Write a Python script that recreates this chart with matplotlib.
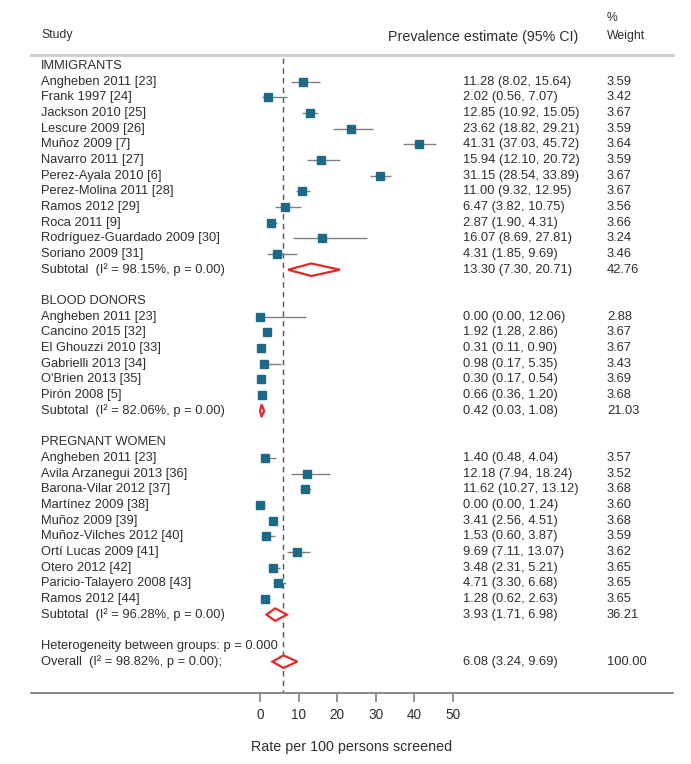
import numpy as np
import matplotlib.pyplot as plt
from matplotlib.patches import Polygon
import matplotlib.transforms as mtransforms

plt.rcParams['font.family'] = ['Liberation Sans', 'DejaVu Sans']

# ---- data -------------------------------------------------------------
imm_study = ["Angheben 2011 [23]", "Frank 1997 [24]", "Jackson 2010 [25]",
             "Lescure 2009 [26]", "Muñoz 2009 [7]", "Navarro 2011 [27]",
             "Perez-Ayala 2010 [6]", "Perez-Molina 2011 [28]", "Ramos 2012 [29]",
             "Roca 2011 [9]", "Rodríguez-Guardado 2009 [30]", "Soriano 2009 [31]"]
imm_est = [11.28, 2.02, 12.85, 23.62, 41.31, 15.94, 31.15, 11.00, 6.47, 2.87, 16.07, 4.31]
imm_lo = [8.02, 0.56, 10.92, 18.82, 37.03, 12.10, 28.54, 9.32, 3.82, 1.90, 8.69, 1.85]
imm_hi = [15.64, 7.07, 15.05, 29.21, 45.72, 20.72, 33.89, 12.95, 10.75, 4.31, 27.81, 9.69]
imm_w = [3.59, 3.42, 3.67, 3.59, 3.64, 3.59, 3.67, 3.67, 3.56, 3.66, 3.24, 3.46]

don_study = ["Angheben 2011 [23]", "Cancino 2015 [32]", "El Ghouzzi 2010 [33]",
             "Gabrielli 2013 [34]", "O'Brien 2013 [35]", "Pirón 2008 [5]"]
don_est = [0.00, 1.92, 0.31, 0.98, 0.30, 0.66]
don_lo = [0.00, 1.28, 0.11, 0.17, 0.17, 0.36]
don_hi = [12.06, 2.86, 0.90, 5.35, 0.54, 1.20]
don_w = [2.88, 3.67, 3.67, 3.43, 3.69, 3.68]

preg_study = ["Angheben 2011 [23]", "Avila Arzanegui 2013 [36]", "Barona-Vilar 2012 [37]",
              "Martínez 2009 [38]", "Muñoz 2009 [39]", "Muñoz-Vilches 2012 [40]",
              "Ortí Lucas 2009 [41]", "Otero 2012 [42]", "Paricio-Talayero 2008 [43]",
              "Ramos 2012 [44]"]
preg_est = [1.40, 12.18, 11.62, 0.00, 3.41, 1.53, 9.69, 3.48, 4.71, 1.28]
preg_lo = [0.48, 7.94, 10.27, 0.00, 2.56, 0.60, 7.11, 2.31, 3.30, 0.62]
preg_hi = [4.04, 18.24, 13.12, 1.24, 4.51, 3.87, 13.07, 5.21, 6.68, 2.63]
preg_w = [3.57, 3.52, 3.68, 3.60, 3.68, 3.59, 3.62, 3.65, 3.65, 3.65]

group_names = ["IMMIGRANTS", "BLOOD DONORS", "PREGNANT WOMEN"]
sub_i2 = ["98.15", "82.06", "96.28"]
sub_est = [13.30, 0.42, 3.93]
sub_lo = [7.30, 0.03, 1.71]
sub_hi = [20.71, 1.08, 6.98]
sub_w = [42.76, 21.03, 36.21]

overall_est, overall_lo, overall_hi = 6.08, 3.24, 9.69
overall_i2 = "98.82"
het_p = "0.000"
x_ticks = [0, 10, 20, 30, 40, 50]

# ---- styling ----------------------------------------------------------
txt_col = '#2e2e2e'
sq_col = '#1d6a86'
ci_col = '#808080'
dia_col = '#e02a2a'
fs = 9.3

fig = plt.figure(figsize=(6.91, 7.64), dpi=100)
W, H = 691, 764
left_px, right_px, top_px, bot_px = 31, 673, 55, 693
ax = fig.add_axes([left_px / W, 1 - bot_px / H, (right_px - left_px) / W, (bot_px - top_px) / H])
ax.set_xlim(-59.3, 107.0)
ax.set_ylim(40.0, -0.7)

for s in ['left', 'right']:
    ax.spines[s].set_visible(False)
ax.spines['top'].set_color('#cccccc')
ax.spines['top'].set_linewidth(2.0)
ax.spines['bottom'].set_color('#808080')
ax.spines['bottom'].set_linewidth(1.3)
ax.set_yticks([])
ax.set_xticks(x_ticks)
ax.tick_params(axis='x', length=6.5, width=1.2, color='#808080', pad=4.5,
               labelsize=9.8, labelcolor=txt_col)
ax.set_xlabel("Rate per 100 persons screened", fontsize=10.3, color=txt_col, labelpad=13)

tr = mtransforms.blended_transform_factory(ax.transAxes, ax.transData)
x_lab, x_num, x_wt = 0.0156, 0.673, 0.897


def diamond(y, est, lo, hi):
    h = 0.4
    ax.add_patch(Polygon([[lo, y], [est, y - h], [hi, y], [est, y + h]], closed=True,
                         facecolor='white', edgecolor=dia_col, lw=1.6, zorder=4))


def row_text(y, label, numtxt, wtxt):
    ax.text(x_lab, y, label, transform=tr, ha='left', va='center', fontsize=fs, color=txt_col)
    if numtxt:
        ax.text(x_num, y, numtxt, transform=tr, ha='left', va='center', fontsize=fs, color=txt_col)
    if wtxt:
        ax.text(x_wt, y, wtxt, transform=tr, ha='left', va='center', fontsize=fs, color=txt_col)


groups = [(imm_study, imm_est, imm_lo, imm_hi, imm_w),
          (don_study, don_est, don_lo, don_hi, don_w),
          (preg_study, preg_est, preg_lo, preg_hi, preg_w)]

row = 0
for g, (names, est, lo, hi, w) in enumerate(groups):
    row_text(row, group_names[g], None, None)
    row += 1
    for n, e, l, h, wt in zip(names, est, lo, hi, w):
        ax.plot([l, h], [row, row], color=ci_col, lw=1.0, zorder=2, solid_capstyle='butt')
        ax.plot([e], [row], marker='s', ms=6.4 * np.sqrt(wt / 3.69), color=sq_col,
                mec=sq_col, zorder=3)
        row_text(row, n, f"{e:.2f} ({l:.2f}, {h:.2f})", f"{wt:.2f}")
        row += 1
    diamond(row, sub_est[g], sub_lo[g], sub_hi[g])
    row_text(row, f"Subtotal  (I² = {sub_i2[g]}%, p = 0.00)",
             f"{sub_est[g]:.2f} ({sub_lo[g]:.2f}, {sub_hi[g]:.2f})", f"{sub_w[g]:.2f}")
    row += 2

row_text(row, f"Heterogeneity between groups: p = {het_p}", None, None)
row += 1
diamond(row, overall_est, overall_lo, overall_hi)
row_text(row, f"Overall  (I² = {overall_i2}%, p = 0.00);",
         f"{overall_est:.2f} ({overall_lo:.2f}, {overall_hi:.2f})", "100.00")

# reference line at overall estimate
ax.plot([overall_est, overall_est], [-0.5, 40.0], color='#555555', lw=1.0,
        ls=(0, (4, 3)), zorder=1)

# header
ax.text(x_lab, -1.95, "Study", transform=tr, ha='left', va='center', fontsize=8.8,
        color=txt_col, clip_on=False)
ax.text(0.852, -1.85, "Prevalence estimate (95% CI)", transform=tr, ha='right',
        va='center', fontsize=10.3, color=txt_col, clip_on=False)
ax.text(x_wt, -3.05, "%", transform=tr, ha='left', va='center', fontsize=8.8,
        color=txt_col, clip_on=False)
ax.text(x_wt, -1.92, "Weight", transform=tr, ha='left', va='center', fontsize=8.8,
        color=txt_col, clip_on=False)

fig.savefig("out.png", dpi=100, facecolor='white')
